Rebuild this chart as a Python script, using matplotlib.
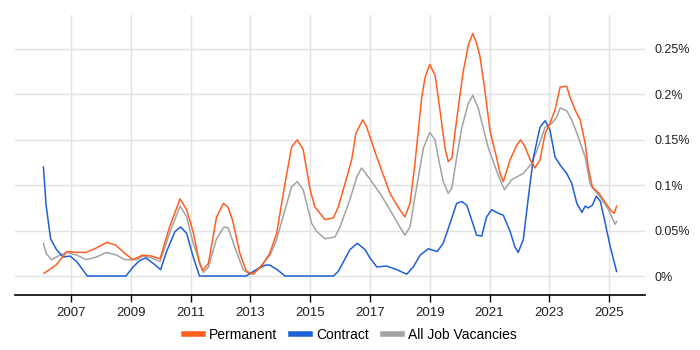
import matplotlib
matplotlib.use("Agg")
import matplotlib.pyplot as plt
from matplotlib.lines import Line2D
from matplotlib.ticker import FuncFormatter

plt.rcParams['font.family'] = ['Liberation Sans', 'DejaVu Sans']

# Permanent (% of all IT job ads)
perm_x = [2006.1, 2006.5, 2006.87, 2007.2, 2007.5, 2007.86, 2008.2, 2008.5, 2008.8, 2009.07,
          2009.4, 2009.7, 2009.98, 2010.3, 2010.65, 2010.87, 2011.1, 2011.3, 2011.4, 2011.6,
          2011.87, 2012.1, 2012.25, 2012.4, 2012.65, 2012.87, 2013.1, 2013.4, 2013.65, 2013.88,
          2014.16, 2014.38, 2014.57, 2014.77, 2015.0, 2015.16, 2015.5, 2015.78, 2015.94, 2016.17,
          2016.39, 2016.53, 2016.76, 2016.89, 2017.23, 2017.67, 2018.0, 2018.17, 2018.34, 2018.5,
          2018.73, 2018.84, 2019.0, 2019.18, 2019.35, 2019.51, 2019.62, 2019.74, 2019.85, 2020.01,
          2020.12, 2020.29, 2020.44, 2020.57, 2020.68, 2020.85, 2021.02, 2021.24, 2021.35, 2021.46,
          2021.69, 2021.91, 2022.04, 2022.19, 2022.36, 2022.52, 2022.69, 2022.86, 2023.02, 2023.19,
          2023.36, 2023.58, 2023.69, 2023.86, 2024.03, 2024.2, 2024.3, 2024.44, 2024.66, 2024.89,
          2025.06, 2025.17, 2025.25]
perm_y = [0.003, 0.012, 0.027, 0.026, 0.026, 0.031, 0.037, 0.034, 0.025, 0.018,
          0.023, 0.022, 0.019, 0.054, 0.085, 0.073, 0.047, 0.014, 0.006, 0.014,
          0.065, 0.080, 0.076, 0.062, 0.025, 0.005, 0.002, 0.012, 0.025, 0.047,
          0.102, 0.142, 0.150, 0.139, 0.095, 0.076, 0.062, 0.064, 0.076, 0.102,
          0.128, 0.157, 0.172, 0.164, 0.131, 0.091, 0.073, 0.065, 0.080, 0.122,
          0.196, 0.218, 0.233, 0.221, 0.181, 0.141, 0.126, 0.130, 0.159, 0.199,
          0.225, 0.254, 0.267, 0.256, 0.242, 0.203, 0.159, 0.130, 0.113, 0.104,
          0.128, 0.144, 0.150, 0.142, 0.128, 0.119, 0.128, 0.157, 0.168, 0.183,
          0.208, 0.209, 0.197, 0.183, 0.172, 0.146, 0.120, 0.098, 0.091, 0.080,
          0.072, 0.069, 0.077]

# Contract
contract_x = [2006.08, 2006.17, 2006.32, 2006.52, 2006.74, 2006.97, 2007.19, 2007.55, 2008.84, 2009.08,
              2009.3, 2009.5, 2009.75, 2010.0, 2010.2, 2010.48, 2010.67, 2010.87, 2011.09, 2011.3,
              2012.86, 2013.1, 2013.5, 2013.65, 2013.9, 2014.16, 2015.78, 2015.94, 2016.17, 2016.33,
              2016.58, 2016.84, 2017.0, 2017.23, 2017.56, 2017.9, 2018.23, 2018.45, 2018.68, 2018.95,
              2019.25, 2019.45, 2019.68, 2019.9, 2020.07, 2020.24, 2020.4, 2020.57, 2020.74, 2020.9,
              2021.07, 2021.3, 2021.46, 2021.69, 2021.85, 2021.96, 2022.13, 2022.3, 2022.47, 2022.69,
              2022.86, 2023.02, 2023.19, 2023.41, 2023.58, 2023.75, 2023.92, 2024.09, 2024.2, 2024.3,
              2024.44, 2024.57, 2024.71, 2024.87, 2025.04, 2025.25]
contract_y = [0.120, 0.078, 0.041, 0.029, 0.021, 0.022, 0.016, 0.0, 0.0, 0.010,
              0.017, 0.020, 0.014, 0.007, 0.027, 0.049, 0.054, 0.047, 0.021, 0.0,
              0.0, 0.005, 0.012, 0.012, 0.007, 0.0, 0.0, 0.005, 0.019, 0.029,
              0.036, 0.029, 0.020, 0.010, 0.011, 0.007, 0.002, 0.010, 0.023, 0.030,
              0.027, 0.036, 0.058, 0.080, 0.082, 0.078, 0.062, 0.045, 0.044, 0.065,
              0.073, 0.069, 0.067, 0.049, 0.032, 0.026, 0.040, 0.087, 0.131, 0.164,
              0.171, 0.161, 0.131, 0.120, 0.113, 0.102, 0.080, 0.070, 0.077, 0.075,
              0.078, 0.088, 0.082, 0.058, 0.032, 0.005]

# All job vacancies
all_x = [2006.08, 2006.17, 2006.35, 2006.63, 2006.86, 2007.19, 2007.52, 2007.86, 2008.19, 2008.53,
         2008.8, 2009.2, 2009.42, 2009.7, 2009.98, 2010.3, 2010.65, 2010.87, 2011.09, 2011.43,
         2011.6, 2011.87, 2012.12, 2012.26, 2012.48, 2012.76, 2012.99, 2013.32, 2013.66, 2013.88,
         2014.16, 2014.38, 2014.57, 2014.77, 2015.05, 2015.22, 2015.5, 2015.83, 2016.0, 2016.33,
         2016.56, 2016.72, 2016.95, 2017.34, 2017.67, 2018.0, 2018.17, 2018.34, 2018.5, 2018.79,
         2019.0, 2019.18, 2019.29, 2019.45, 2019.62, 2019.74, 2019.9, 2020.07, 2020.29, 2020.44,
         2020.62, 2020.79, 2020.96, 2021.29, 2021.5, 2021.74, 2022.13, 2022.41, 2022.63, 2022.86,
         2023.08, 2023.25, 2023.36, 2023.58, 2023.75, 2023.97, 2024.2, 2024.36, 2024.44, 2024.66,
         2024.98, 2025.2, 2025.25]
all_y = [0.036, 0.025, 0.018, 0.023, 0.026, 0.023, 0.018, 0.021, 0.026, 0.023,
         0.018, 0.018, 0.022, 0.020, 0.016, 0.047, 0.077, 0.065, 0.036, 0.004,
         0.010, 0.041, 0.054, 0.053, 0.032, 0.007, 0.002, 0.010, 0.023, 0.040,
         0.073, 0.098, 0.104, 0.095, 0.058, 0.049, 0.041, 0.043, 0.054, 0.084,
         0.109, 0.119, 0.109, 0.091, 0.073, 0.054, 0.045, 0.054, 0.086, 0.141,
         0.158, 0.150, 0.130, 0.104, 0.091, 0.097, 0.130, 0.163, 0.190, 0.199,
         0.185, 0.163, 0.141, 0.111, 0.095, 0.106, 0.113, 0.124, 0.142, 0.164,
         0.168, 0.175, 0.185, 0.182, 0.172, 0.153, 0.131, 0.102, 0.097, 0.089,
         0.073, 0.057, 0.060]

year_ticks = [2007, 2009, 2011, 2013, 2015, 2017, 2019, 2021, 2023, 2025]
pct_ticks = [0, 0.05, 0.1, 0.15, 0.2, 0.25]

c_perm = '#ff5f1f'
c_contract = '#1f5fd8'
c_all = '#a3a3a3'

fig = plt.figure(figsize=(7, 3.5), dpi=100)
ax = fig.add_axes([15 / 700, 1 - 295 / 350, 630 / 700, 280 / 350])

ax.plot(all_x, all_y, color=c_all, lw=1.1, zorder=3)
ax.plot(contract_x, contract_y, color=c_contract, lw=1.1, zorder=4)
ax.plot(perm_x, perm_y, color=c_perm, lw=1.1, zorder=5)

ax.set_xlim(2005.13, 2026.2)
ax.set_ylim(-0.0209, 0.2874)

ax.set_xticks(year_ticks)
ax.set_xticklabels([str(y) for y in year_ticks])
ax.set_yticks(pct_ticks)
ax.yaxis.set_major_formatter(FuncFormatter(lambda v, p: ('%g' % round(v, 3)) + '%'))
ax.yaxis.tick_right()
ax.tick_params(axis='y', length=0, pad=7, labelsize=9, colors='#222222')
ax.tick_params(axis='x', length=5, width=1, pad=4, labelsize=9.5, colors='#222222')
ax.tick_params(axis='x', color='black')

ax.grid(True, color='#e2e2e2', lw=1)
ax.set_axisbelow(True)
for s in ['top', 'left', 'right']:
    ax.spines[s].set_visible(False)
ax.spines['bottom'].set_color('black')
ax.spines['bottom'].set_linewidth(1.2)

handles = [Line2D([0], [0], color=c, lw=4) for c in [c_perm, c_contract, c_all]]
fig.legend(handles, ['Permanent', 'Contract', 'All Job Vacancies'], loc='center',
           bbox_to_anchor=(0.5, 1 - 335 / 350), ncol=3, frameon=False, fontsize=10,
           handlelength=1.4, handletextpad=0.4, columnspacing=1.0)

fig.savefig('out.png', dpi=100)
